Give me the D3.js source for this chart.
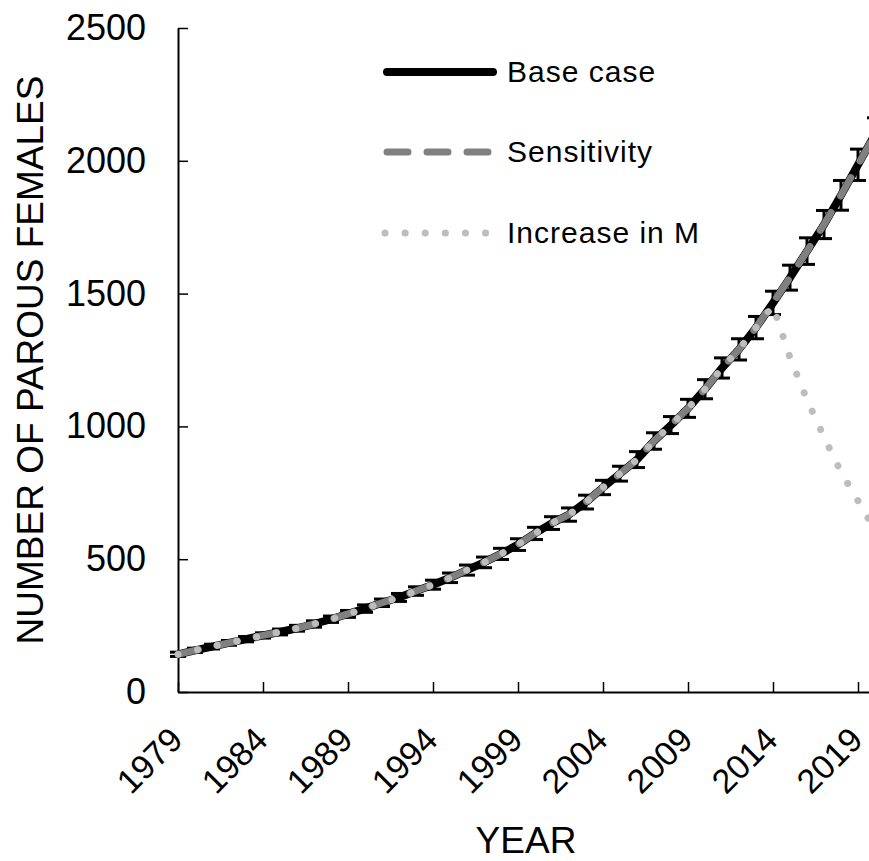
<!DOCTYPE html>
<html>
<head>
<meta charset="utf-8">
<script src="https://cdn.jsdelivr.net/npm/d3@7"></script>
<style>
  body { margin: 0; background: #fff; }
  text { font-family: "Liberation Sans", Arial, sans-serif; fill: #000; }
</style>
</head>
<body>
<script>
// data //////////////////////////////
var years = [1979,1980,1981,1982,1983,1984,1985,1986,1987,1988,1989,1990,1991,1992,1993,1994,1995,1996,1997,1998,1999,
             2000,2001,2002,2003,2004,2005,2006,2007,2008,2009,2010,2011,2012,2013,2014,2015,2016,2017,2018,2019,2020];

var baseCase = [142,157,171,185,199,213,226,240,256,274,294,314,336,356,380,404,430,459,488,520,555,
                597,636,668,715,770,822,875,945,1005,1068,1140,1220,1290,1372,1465,1560,1660,1760,1870,1985,2100];

var baseError = [8,8,9,9,10,10,11,11,12,12,13,14,14,15,16,17,18,19,20,21,22,
                 23,24,25,26,27,28,30,31,32,34,36,38,40,42,44,47,50,53,56,59,62];

var sensitivity = [142,157,171,185,199,213,226,240,256,274,294,314,336,356,380,404,430,459,488,520,555,
                   597,636,668,715,770,822,875,945,1005,1068,1140,1220,1290,1372,1465,1560,1660,1760,1870,1985,2100];

var increaseM = [142,157,171,185,199,213,226,240,256,274,294,314,336,356,380,404,430,459,488,520,555,
                 597,636,668,715,770,822,875,945,1005,1068,1140,1220,1290,1372,1455,1259,1100,960,828,720,610];

var xTicks = [1979,1984,1989,1994,1999,2004,2009,2014,2019];
var yTicks = [0,500,1000,1500,2000,2500];

var legendNames = ["Base case", "Sensitivity", "Increase in M"];

// SVG setup //////////////////////////////
var W = 869, H = 861;
var svg = d3.select("body").append("svg")
    .attr("width", W)
    .attr("height", H);

var xScale = d3.scaleLinear().domain([1979, 2020]).range([178, 875]);
var yScale = d3.scaleLinear().domain([0, 2500]).range([692, 28]);

// axes
var xAxis = d3.axisBottom(xScale)
    .tickValues(xTicks)
    .tickSizeInner(-10)
    .tickSizeOuter(0)
    .tickFormat(d3.format("d"));

var gx = svg.append("g")
    .attr("transform", "translate(0," + yScale(0) + ")")
    .call(xAxis);
gx.select(".domain").attr("stroke", "#000").attr("stroke-width", 2);
gx.selectAll(".tick line").attr("stroke", "#000").attr("stroke-width", 1.5);
gx.selectAll(".tick text")
    .attr("font-size", 34)
    .attr("text-anchor", "end")
    .attr("y", 0).attr("dy", 0)
    .attr("transform", "translate(6,50) rotate(-45)");

var yAxis = d3.axisLeft(yScale)
    .tickValues(yTicks)
    .tickSizeInner(-10)
    .tickSizeOuter(0)
    .tickPadding(32)
    .tickFormat(d3.format("d"));

var gy = svg.append("g")
    .attr("transform", "translate(" + xScale(1979) + ",0)")
    .call(yAxis);
gy.select(".domain").attr("stroke", "#000").attr("stroke-width", 2);
gy.selectAll(".tick line").attr("stroke", "#000").attr("stroke-width", 1.5);
gy.selectAll(".tick text").attr("font-size", 36);

// axis titles
svg.append("text")
    .attr("x", 526).attr("y", 853)
    .attr("text-anchor", "middle")
    .attr("font-size", 37)
    .text("YEAR");

svg.append("text")
    .attr("transform", "translate(43," + ((yScale(0) + yScale(2500)) / 2) + ") rotate(-90)")
    .attr("text-anchor", "middle")
    .attr("font-size", 37)
    .text("NUMBER OF PAROUS FEMALES");

// series //////////////////////////////
var line = d3.line()
    .x(function(d, i) { return xScale(years[i]); })
    .y(function(d) { return yScale(d); });

// error bars on base case
var bars = svg.append("g").attr("stroke", "#000").attr("stroke-width", 3);
baseCase.forEach(function(v, i) {
    var x = xScale(years[i]);
    var top = yScale(v + baseError[i]);
    var bot = yScale(v - baseError[i]);
    bars.append("line").attr("x1", x).attr("x2", x).attr("y1", top).attr("y2", bot);
    bars.append("line").attr("x1", x - 8).attr("x2", x + 8).attr("y1", top).attr("y2", top);
    bars.append("line").attr("x1", x - 8).attr("x2", x + 8).attr("y1", bot).attr("y2", bot);
});

svg.append("path")
    .datum(baseCase)
    .attr("d", line)
    .attr("fill", "none")
    .attr("stroke", "#000")
    .attr("stroke-width", 8)
    .attr("stroke-linejoin", "round");

svg.append("path")
    .datum(sensitivity)
    .attr("d", line)
    .attr("fill", "none")
    .attr("stroke", "#808080")
    .attr("stroke-width", 7)
    .attr("stroke-linecap", "round")
    .attr("stroke-dasharray", "21,19");

svg.append("path")
    .datum(increaseM)
    .attr("d", line)
    .attr("fill", "none")
    .attr("stroke", "#bdbdbd")
    .attr("stroke-width", 7)
    .attr("stroke-linecap", "round")
    .attr("stroke-dasharray", "0.1,20");

// legend //////////////////////////////
var legend = svg.append("g");
var legendY = [72, 152, 233];

legend.append("line")
    .attr("x1", 387).attr("x2", 493).attr("y1", legendY[0]).attr("y2", legendY[0])
    .attr("stroke", "#000").attr("stroke-width", 8).attr("stroke-linecap", "round");
legend.append("line")
    .attr("x1", 387).attr("x2", 493).attr("y1", legendY[1]).attr("y2", legendY[1])
    .attr("stroke", "#808080").attr("stroke-width", 7).attr("stroke-linecap", "round")
    .attr("stroke-dasharray", "21,19");
legend.append("line")
    .attr("x1", 385).attr("x2", 493).attr("y1", legendY[2]).attr("y2", legendY[2])
    .attr("stroke", "#bdbdbd").attr("stroke-width", 7).attr("stroke-linecap", "round")
    .attr("stroke-dasharray", "0.1,20");

legend.selectAll("text.lg")
    .data(legendNames)
    .enter().append("text")
    .attr("class", "lg")
    .attr("x", 507)
    .attr("y", function(d, i) { return legendY[i] + 10; })
    .attr("font-size", 30)
    .attr("letter-spacing", 1)
    .text(function(d) { return d; });
</script>
</body>
</html>
